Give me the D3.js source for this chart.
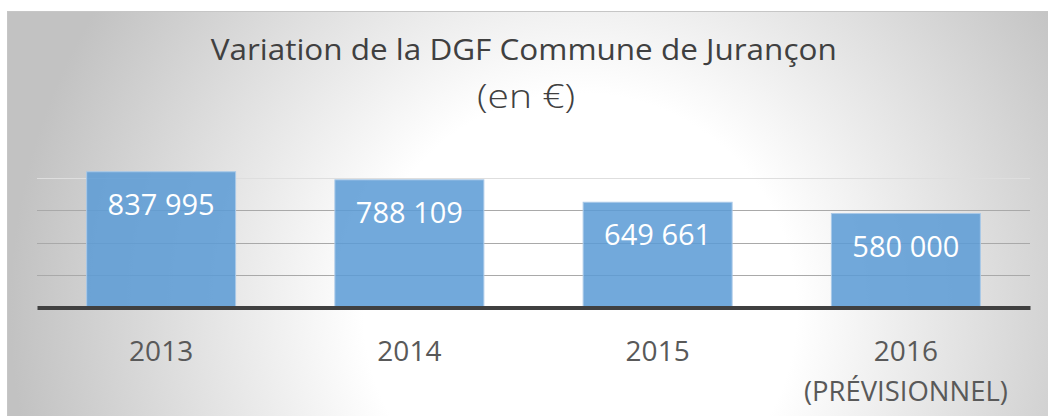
<!DOCTYPE html>
<html>
<head>
<meta charset="utf-8">
<script src="https://cdn.jsdelivr.net/npm/d3@7"></script>
<style>
  html, body { margin: 0; padding: 0; background: #ffffff; }
  svg { display: block; }
</style>
</head>
<body>
<svg id="chart" width="1048" height="416"></svg>
<script>
// ---- data ----
const categories = ["2013", "2014", "2015", "2016"];
const values = [837995, 788109, 649661, 580000];
const tickLabels = [["2013"], ["2014"], ["2015"], ["2016", "(PRÉVISIONNEL)"]];
const gridValues = [200000, 400000, 600000, 800000];
const titleLines = ["Variation de la DGF Commune de Jurançon", "(en €)"];

// ---- layout ----
const W = 1048, H = 416;
const plot = { left: 37, right: 1030, top: 145.5, bottom: 307.5 };
const FONT = "'Open Sans', 'Noto Sans', sans-serif";

const svg = d3.select("#chart");

// background radial gradient
const defs = svg.append("defs");
const grad = defs.append("radialGradient")
  .attr("id", "bg").attr("gradientUnits", "userSpaceOnUse")
  .attr("cx", 580).attr("cy", 310).attr("r", 570);
grad.append("stop").attr("offset", "0").attr("stop-color", "#ffffff");
grad.append("stop").attr("offset", "0.38").attr("stop-color", "#ffffff");
grad.append("stop").attr("offset", "1").attr("stop-color", "#c2c2c2");

svg.append("rect")
  .attr("x", 7.5).attr("y", 11.5).attr("width", W).attr("height", H)
  .attr("fill", "url(#bg)").attr("stroke", "#c6c6c6").attr("stroke-width", 1);

// scales
const x = d3.scaleBand().domain(categories)
  .range([plot.left, plot.right]).paddingInner(0.4).paddingOuter(0.2);
const y = d3.scaleLinear().domain([0, 1000000]).range([plot.bottom, plot.top]);

// gridlines
svg.append("g").selectAll("line").data(gridValues).join("line")
  .attr("x1", plot.left).attr("x2", plot.right)
  .attr("y1", d => Math.round(y(d)) + 0.5).attr("y2", d => Math.round(y(d)) + 0.5)
  .attr("stroke", (d, i) => i === gridValues.length - 1 ? "#dedede" : "#a9a9a9")
  .attr("stroke-width", 1.2);

// bars
const data = categories.map((c, i) => ({ cat: c, value: values[i] }));
svg.append("g").selectAll("rect").data(data).join("rect")
  .attr("x", d => x(d.cat)).attr("width", x.bandwidth())
  .attr("y", d => y(d.value)).attr("height", d => y(0) - y(d.value))
  .attr("fill", "#5b9bd5").attr("fill-opacity", 0.86)
  .attr("stroke", "#a9c9e8").attr("stroke-width", 1);

// value labels
const fr = d3.formatLocale({ decimal: ",", thousands: "\u00a0", grouping: [3], currency: ["", " €"] });
const fmt = fr.format(",.0f");
svg.append("g").selectAll("text").data(data).join("text")
  .attr("x", d => x(d.cat) + x.bandwidth() / 2)
  .attr("y", d => y(d.value) + 43)
  .attr("text-anchor", "middle")
  .attr("font-family", FONT).attr("font-size", 29)
  .attr("fill", "#ffffff")
  .text(d => fmt(d.value));

// x axis
const xAxis = d3.axisBottom(x).tickSize(0).tickSizeOuter(0);
const gx = svg.append("g").attr("transform", `translate(0,${plot.bottom})`).call(xAxis);
gx.select(".domain").attr("stroke", "#404040").attr("stroke-width", 4);
gx.selectAll(".tick text").each(function (d, i) {
  const t = d3.select(this);
  t.text(null).attr("y", null).attr("dy", null)
    .attr("font-family", FONT).attr("font-size", 28).attr("fill", "#595959");
  tickLabels[i].forEach((line, j) => {
    t.append("tspan").attr("x", 0).attr("y", 53.5 + j * 39.5).text(line);
  });
});
gx.selectAll(".tick text tspan").each(function () {
  if (this.textContent.startsWith("(")) {
    d3.select(this).attr("textLength", 204).attr("lengthAdjust", "spacingAndGlyphs");
  }
});

// titles
const t1 = svg.append("text")
  .attr("x", 523.7).attr("y", 60).attr("text-anchor", "middle")
  .attr("font-family", FONT).attr("font-weight", 400).attr("font-size", 29)
  .attr("fill", "#404040").text(titleLines[0]);
const t1w = t1.node().getComputedTextLength();
if (Math.abs(t1w - 626) > 6) t1.attr("textLength", 626).attr("lengthAdjust", "spacingAndGlyphs");

const t2 = svg.append("text")
  .attr("x", 526).attr("y", 108).attr("text-anchor", "middle")
  .attr("font-family", FONT).attr("font-weight", 300).attr("font-size", 33)
  .attr("fill", "#404040").text(titleLines[1]);
const t2w = t2.node().getComputedTextLength();
if (Math.abs(t2w - 98) > 4) t2.attr("textLength", 98).attr("lengthAdjust", "spacingAndGlyphs");
</script>
</body>
</html>
